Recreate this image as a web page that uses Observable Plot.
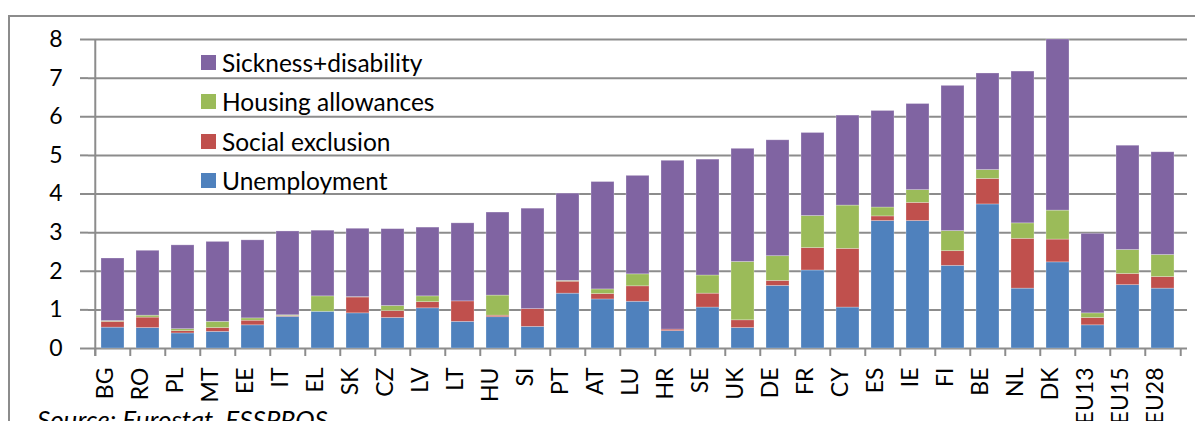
<!DOCTYPE html>
<html>
<head>
<meta charset="utf-8">
<script src="https://cdn.jsdelivr.net/npm/d3@7"></script>
<script src="https://cdn.jsdelivr.net/npm/@observablehq/plot@0.6"></script>
<style>
  html, body { margin: 0; padding: 0; background: #fff; }
  #wrap { position: relative; width: 1195px; height: 421px; overflow: hidden; font-family: Lato, "Open Sans", sans-serif; }
  #frame { position: absolute; left: 8px; top: 15px; width: 1300px; height: 600px; border-top: 2px solid #8c8c8c; border-left: 2px solid #8c8c8c; box-sizing: border-box; }
  #chart { position: absolute; left: 0; top: 0; }
  #legend { position: absolute; left: 201px; top: 44px; }
  .item { position: absolute; left: 0; height: 39px; white-space: nowrap; font-size: 24.5px; color: #000; }
  .sw { position: absolute; left: 0; width: 15px; height: 15px; }
  .lab { position: absolute; left: 21px; line-height: 39px; }
  #source { position: absolute; left: 37px; top: 403px; font-size: 26px; font-style: italic; color: #000; white-space: nowrap; }
</style>
</head>
<body>
<div id="wrap">
  <div id="frame"></div>
  <div id="chart"></div>
  <div id="legend"></div>
  <div id="source"></div>
</div>
<script>
const categories = ["BG","RO","PL","MT","EE","IT","EL","SK","CZ","LV","LT","HU","SI","PT","AT","LU","HR","SE","UK","DE","FR","CY","ES","IE","FI","BE","NL","DK","EU13","EU15","EU28"];
const unemployment    = [0.54,0.53,0.39,0.43,0.60,0.82,0.95,0.91,0.79,1.04,0.69,0.81,0.56,1.42,1.27,1.21,0.45,1.06,0.53,1.62,2.02,1.06,3.30,3.30,2.14,3.73,1.55,2.23,0.60,1.64,1.55];
const socialExclusion = [0.15,0.27,0.06,0.10,0.12,0.02,0.00,0.41,0.18,0.16,0.53,0.04,0.46,0.31,0.14,0.40,0.04,0.36,0.20,0.13,0.58,1.52,0.12,0.47,0.38,0.66,1.29,0.59,0.19,0.29,0.30];
const housing         = [0.02,0.05,0.05,0.16,0.06,0.02,0.40,0.01,0.13,0.15,0.00,0.52,0.00,0.02,0.12,0.31,0.00,0.47,1.51,0.64,0.83,1.12,0.23,0.33,0.52,0.23,0.40,0.75,0.12,0.62,0.57];
const sickness        = [1.62,1.68,2.17,2.07,2.02,2.17,1.70,1.77,1.99,1.78,2.02,2.15,2.60,2.26,2.78,2.55,4.37,3.00,2.93,3.00,2.15,2.33,2.50,2.23,3.76,2.50,3.93,4.43,2.06,2.70,2.66];
const seriesNames = ["Unemployment","Social exclusion","Housing allowances","Sickness+disability"];
const seriesColors = ["#4F81BD","#C0504D","#9BBB59","#8064A2"];
const yTicks = [0,1,2,3,4,5,6,7,8];
const sourceText = "Source: Eurostat, ESSPROS";

const seriesValues = [unemployment, socialExclusion, housing, sickness];
const rows = [];
categories.forEach((c, i) => {
  seriesNames.forEach((s, k) => rows.push({country: c, series: s, value: seriesValues[k][i]}));
});

const W = 1195, H = 421, mL = 88, mR = 8, mT = 39, mB = 73;
const step = (W - mL - mR) / categories.length;
const barInset = 6;
const gridColor = "#8c8c8c";

const plot = Plot.plot({
  width: W, height: H,
  marginLeft: mL, marginRight: mR, marginTop: mT, marginBottom: mB,
  style: {fontFamily: "Lato, 'Open Sans', sans-serif", fontSize: "23px", color: "#000", background: "transparent", overflow: "visible"},
  x: {type: "band", domain: categories, padding: 0, axis: null},
  y: {domain: [0, 8], ticks: yTicks, tickSize: 8, tickPadding: 18, tickFormat: d => String(d), label: null},
  color: {domain: seriesNames, range: seriesColors},
  marks: [
    Plot.ruleY(yTicks, {y: d => d, stroke: gridColor, strokeWidth: 2}),
    Plot.barY(rows, {x: "country", y: "value", fill: "series", insetLeft: barInset, insetRight: barInset,
                     stroke: "#ffffff", strokeOpacity: 0.35, strokeWidth: 0.75}),
    // left axis line
    Plot.ruleX([categories[0]], {x: d => d, dx: -step / 2, stroke: gridColor, strokeWidth: 2, insetBottom: -8}),
    // category boundary ticks
    Plot.ruleX(categories, {x: d => d, dx: -step / 2, y1: 0, y2: 0, insetBottom: -8, stroke: gridColor, strokeWidth: 2}),
    Plot.ruleX([categories[categories.length - 1]], {x: d => d, dx: step / 2, y1: 0, y2: 0, insetBottom: -8, stroke: gridColor, strokeWidth: 2}),
    // rotated category labels
    Plot.text(categories, {x: d => d, frameAnchor: "bottom", rotate: -90, textAnchor: "end", dy: 19, fontSize: 23, fill: "#000"})
  ]
});
plot.querySelectorAll('g[aria-label="y-axis tick"]').forEach(g => { g.setAttribute("stroke", gridColor); g.setAttribute("stroke-width", 2); });
document.getElementById("chart").appendChild(plot);

const legend = document.getElementById("legend");
const legendOrder = seriesNames.map((n, i) => ({n, c: seriesColors[i]})).reverse();
legendOrder.forEach((d, i) => {
  const item = document.createElement("div");
  item.className = "item";
  item.style.top = (i * 39.3) + "px";
  item.innerHTML = `<div class="sw" style="background:${d.c};top:11px"></div><div class="lab" style="top:-1px">${d.n}</div>`;
  legend.appendChild(item);
});
document.getElementById("source").textContent = sourceText;
</script>
</body>
</html>
